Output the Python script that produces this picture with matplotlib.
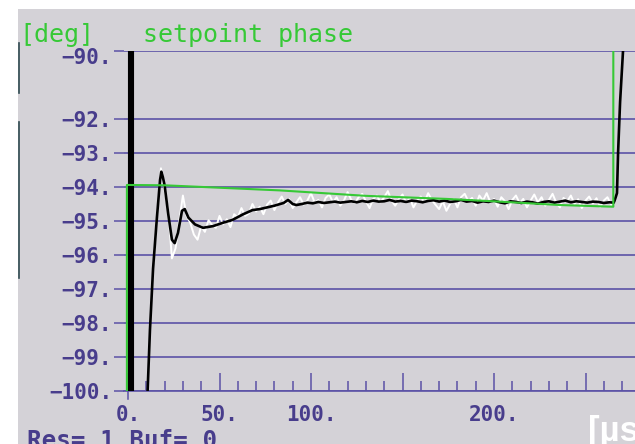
import numpy as np
import matplotlib
matplotlib.use("Agg")
import matplotlib.pyplot as plt
from matplotlib.lines import Line2D
from matplotlib.patches import Rectangle
from matplotlib.transforms import blended_transform_factory, ScaledTranslation

# ---------------------------------------------------------------- data
# short saturated burst right after the trigger
burst_t = [1.6, 1.6]
burst_v = [-100.5, -89.5]

# measured phase [deg] over time [us]
phase_t = [10.5, 12.0, 13.7, 15.8, 17.5, 18.2, 19.0, 20.0, 22.0, 24.0, 25.5, 27.3,
           29.5, 31.0, 33.0, 36.6, 41.0, 46.5, 52.0, 57.0, 63.0, 68.0, 72.0, 76.0,
           80.0, 85.0, 87.5, 90.0, 92.0, 95.0, 98.0, 101.0, 104.0, 107.0, 110.0,
           113.0, 116.0, 119.0, 122.0, 125.0, 128.0, 131.0, 134.0, 137.0, 140.0,
           143.0, 146.0, 149.0, 152.0, 155.0, 158.0, 161.0, 164.0, 167.0, 170.0,
           173.0, 176.0, 179.0, 182.0, 185.0, 188.0, 191.0, 194.0, 197.0, 200.0,
           203.0, 206.0, 209.0, 212.0, 215.0, 218.0, 221.0, 224.0, 227.0, 230.0,
           233.0, 236.0, 239.0, 242.0, 245.0, 248.0, 251.0, 254.0, 257.0, 260.0,
           263.0, 265.5, 266.5, 267.2, 267.8, 268.9, 270.0, 270.5, 271.0]
phase_v = [-100.3, -98.2, -96.4, -94.9, -93.8, -93.55, -93.7, -93.95, -94.8, -95.55, -95.65, -95.35,
           -94.7, -94.65, -94.9, -95.1, -95.2, -95.15, -95.05, -94.97, -94.8, -94.68, -94.65, -94.6,
           -94.55, -94.47, -94.38, -94.5, -94.53, -94.5, -94.46, -94.48, -94.44, -94.47, -94.45,
           -94.43, -94.46, -94.44, -94.42, -94.45, -94.41, -94.44, -94.40, -94.43, -94.42,
           -94.38, -94.43, -94.41, -94.44, -94.40, -94.42, -94.45, -94.41, -94.39, -94.43,
           -94.40, -94.44, -94.42, -94.38, -94.43, -94.41, -94.46, -94.42, -94.44, -94.40,
           -94.45, -94.48, -94.42, -94.44, -94.47, -94.43, -94.45, -94.49, -94.44, -94.42,
           -94.46, -94.43, -94.40, -94.45, -94.42, -94.44, -94.46, -94.43, -94.44, -94.47,
           -94.45, -94.46, -94.30, -94.18, -93.0, -91.5, -90.47, -90.0, -89.5]

# raw (unfiltered) phase samples, one every 2 us starting at 14 us
raw_t0, raw_dt = 14.0, 2.0
raw_v = [-96.2, -94.8, -93.45, -94.1, -94.7, -96.1, -95.8, -95.0, -94.25, -94.85,
         -95.05, -95.4, -95.55, -95.15, -95.32, -94.98, -95.12, -95.2, -94.85, -95.1,
         -94.95, -95.18, -94.8, -94.9, -94.62, -94.85, -94.78, -94.5, -94.72, -94.58,
         -94.8, -94.52, -94.4, -94.68, -94.45, -94.28, -94.5, -94.35, -94.62, -94.45,
         -94.3, -94.52, -94.4, -94.18, -94.46, -94.38, -94.6, -94.32, -94.22, -94.45,
         -94.3, -94.55, -94.4, -94.15, -94.38, -94.48, -94.3, -94.2, -94.42, -94.62,
         -94.35, -94.25, -94.45, -94.3, -94.12, -94.4, -94.55, -94.36, -94.22, -94.46,
         -94.33, -94.6, -94.4, -94.28, -94.45, -94.18, -94.38, -94.52, -94.65, -94.42,
         -94.7, -94.5, -94.35, -94.6, -94.3, -94.2, -94.42, -94.32, -94.55, -94.25,
         -94.4, -94.18, -94.45, -94.35, -94.58, -94.3, -94.42, -94.65, -94.38, -94.25,
         -94.48, -94.35, -94.6, -94.4, -94.22, -94.45, -94.3, -94.55, -94.38, -94.2,
         -94.46, -94.6, -94.32, -94.42, -94.25, -94.5, -94.36, -94.62, -94.4, -94.28,
         -94.48, -94.33, -94.58, -94.4, -94.3, -94.52, -94.45]
raw_t = raw_t0 + raw_dt * np.arange(len(raw_v))

# setpoint phase [deg]
setpoint_t = [-0.6, -0.6, 20.0, 83.0, 130.0, 174.0, 203.0, 236.0, 265.2, 265.2]
setpoint_v = [-100.5, -93.94, -93.95, -94.10, -94.26, -94.35, -94.43, -94.53, -94.58, -89.5]

y_ticks = [-90, -92, -93, -94, -95, -96, -97, -98, -99, -100]
y_labels = ["\u221290.", "\u221292.", "\u221293.", "\u221294.", "\u221295.",
            "\u221296.", "\u221297.", "\u221298.", "\u221299.", "\u2212100."]
x_major = [0, 50, 100, 150, 200, 250]
x_labels = ["0.", "50.", "100.", "", "200.", ""]
x_minor = [10, 20, 30, 40, 60, 70, 80, 90, 110, 120, 130, 140, 160, 170, 180, 190,
           210, 220, 230, 240, 260, 270]

# ---------------------------------------------------------------- style
W, H, DPI = 635, 444, 100
BG = "#d4d2d7"
GRID = "#5b52a6"
LABEL = "#483d8c"
GREEN = "#36c936"

plt.rcParams["font.family"] = ["DejaVu Sans Mono", "DejaVu Sans"]


def fx(px):
    return px / W


def fy(py):
    return 1 - py / H


fig = plt.figure(figsize=(W / DPI, H / DPI), dpi=DPI, facecolor="white")
fig.patches.append(Rectangle((fx(18), 0), 1, fy(9), transform=fig.transFigure,
                             facecolor=BG, edgecolor="none", zorder=-10))
for y0, y1 in [(43, 93), (122, 278)]:
    fig.lines.append(Line2D([fx(18.5), fx(18.5)], [fy(y0), fy(y1)],
                            transform=fig.transFigure, color="#2f4a50", lw=1.2,
                            zorder=-5))

px_per_us = 1.83
left_px, right_px, bottom_px, top_px = 124, 650, 391, 51
ax = fig.add_axes([fx(left_px), fy(bottom_px), (right_px - left_px) / W,
                   (bottom_px - top_px) / H])
ax.set_zorder(1)
ax.patch.set_visible(False)
ax.set_xlim(-(128 - left_px) / px_per_us, (right_px - 128) / px_per_us)
ax.set_ylim(-100, -90)

for s in ("top", "right", "left"):
    ax.spines[s].set_visible(False)
ax.spines["bottom"].set_color(GRID)
ax.spines["bottom"].set_linewidth(1.2)

ax.set_yticks(y_ticks, y_labels)
ax.tick_params(axis="y", direction="out", length=7, width=1.1, color=GRID,
               pad=1.5, labelsize=15, labelcolor=LABEL)
for lab in ax.get_yticklabels():
    lab.set_fontweight("bold")
ax.grid(axis="y", color=GRID, lw=1.2)
ax.set_axisbelow(True)

ax.set_xticks(x_major, x_labels)
ax.set_xticks(x_minor, minor=True)
ax.tick_params(axis="x", which="major", direction="in", length=13, width=1.1,
               color=GRID, pad=10, labelsize=15, labelcolor=LABEL)
ax.tick_params(axis="x", which="minor", direction="in", length=7, width=1.1,
               color=GRID)
for lab in ax.get_xticklabels():
    lab.set_fontweight("bold")
# origin tick reaching below the axis
ax.plot([0, 0], [0, -8 / (bottom_px - top_px)],
        transform=blended_transform_factory(ax.transData, ax.transAxes),
        clip_on=False, color=GRID, lw=1.1)

# the top label sits a little below its grid line
top_label = ax.yaxis.get_major_ticks()[0].label1
top_label.set_transform(top_label.get_transform()
                        + ScaledTranslation(0, -0.05, fig.dpi_scale_trans))

# traces
ax.plot(raw_t, raw_v, color="white", lw=1.4, zorder=3)
ax.plot(phase_t, phase_v, color="black", lw=1.9, zorder=4)
ax.plot(burst_t, burst_v, color="black", lw=4.4, zorder=4, solid_capstyle="butt")
ax.plot(setpoint_t, setpoint_v, color=GREEN, lw=1.5, zorder=5)

# labels
fig.text(fx(19), fy(42), "[deg]", color=GREEN, fontsize=18, va="baseline", ha="left")
fig.text(fx(143), fy(42), "setpoint phase", color=GREEN, fontsize=18,
         va="baseline", ha="left")
fig.text(fx(27), fy(448), "Res= 1.Buf= 0", color=LABEL, fontsize=17.5,
         fontweight="bold", va="baseline", ha="left")
fig.text(fx(588), fy(441), "[\u00b5s]", color="white", fontsize=25, fontweight="bold",
         family=["Liberation Sans Narrow", "Liberation Sans", "DejaVu Sans"],
         va="baseline", ha="left")

fig.savefig("out.png", dpi=DPI, facecolor="white")
